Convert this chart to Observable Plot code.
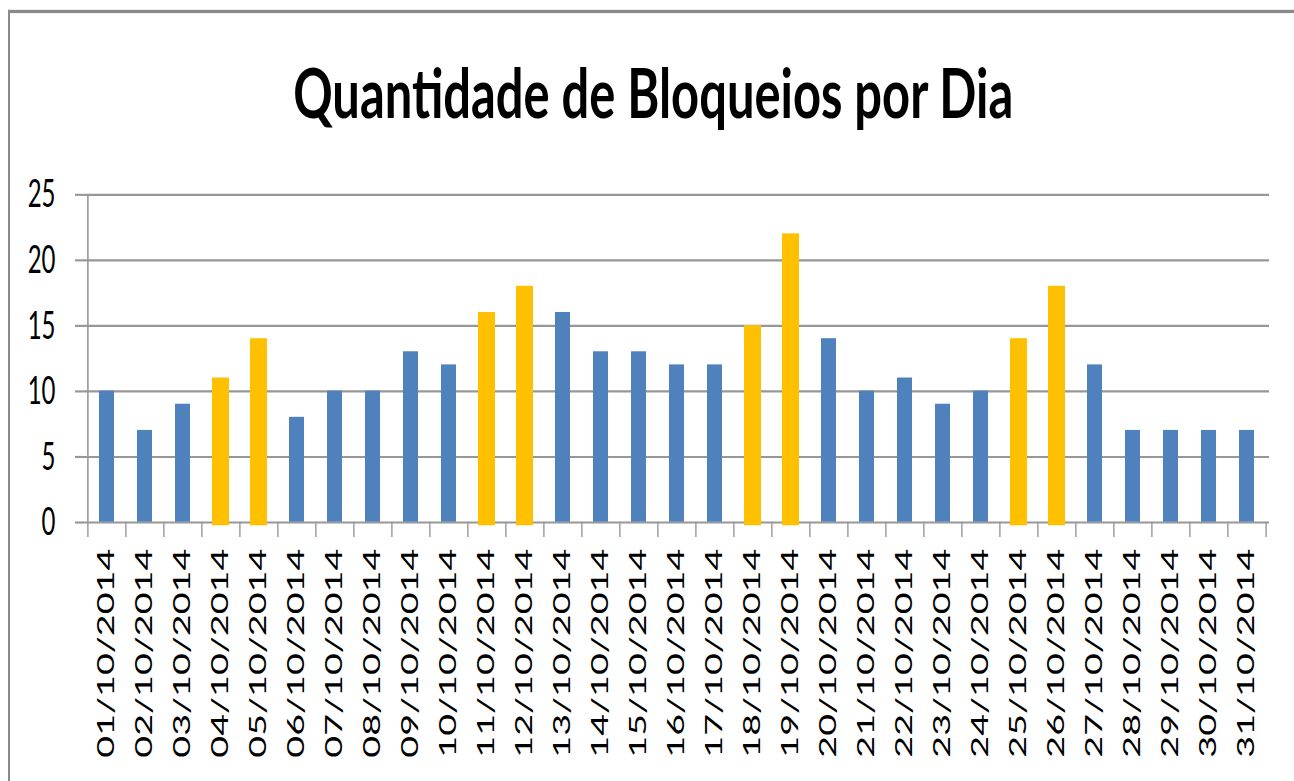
<!DOCTYPE html>
<html>
<head>
<meta charset="utf-8">
<script src="https://cdn.jsdelivr.net/npm/d3@7"></script>
<script src="https://cdn.jsdelivr.net/npm/@observablehq/plot@0.6"></script>
<style>
  html, body { margin: 0; padding: 0; background: #fff; overflow: hidden; width: 1294px; height: 781px; }
  #stage { position: absolute; left: 0; top: 0; width: 1294px; height: 476px; transform: scaleY(1.64); transform-origin: 0 0; }
  #border { position: absolute; left: 8px; top: 6px; width: 2000px; height: 2000px; border-left: 2px solid #8a8a8a; border-top: 2px solid #8a8a8a; }
  #title { position: absolute; left: 6px; top: 35px; width: 1294px; text-align: center; font: bold 42.5px Lato, sans-serif; line-height: 1; white-space: nowrap; color: #000; }
  #tt { display: inline-block; transform-origin: 50% 50%; }
  #chart { position: absolute; left: 0; top: 0; }
</style>
</head>
<body>
<div id="stage">
  <div id="border"></div>
  <div id="title"><span id="tt">Quantidade de Bloqueios por Dia</span></div>
  <div id="chart"></div>
</div>
<script>
// ---- data ----
const datas = [
  "01/10/2014","02/10/2014","03/10/2014","04/10/2014","05/10/2014","06/10/2014","07/10/2014",
  "08/10/2014","09/10/2014","10/10/2014","11/10/2014","12/10/2014","13/10/2014","14/10/2014",
  "15/10/2014","16/10/2014","17/10/2014","18/10/2014","19/10/2014","20/10/2014","21/10/2014",
  "22/10/2014","23/10/2014","24/10/2014","25/10/2014","26/10/2014","27/10/2014","28/10/2014",
  "29/10/2014","30/10/2014","31/10/2014"
];
const bloqueios = [10,7,9,11,14,8,10,10,13,12,16,18,16,13,13,12,12,15,22,14,10,11,9,10,14,18,12,7,7,7,7];
const yTicks = [0,5,10,15,20,25];
const tipos = ["Dia útil", "Fim de semana"];
const cores = ["#4F81BD", "#FFC000"];

function tipoDe(label) {
  const [d, m, y] = label.split("/").map(Number);
  const wd = new Date(y, m - 1, d).getDay();
  return (wd === 0 || wd === 6) ? tipos[1] : tipos[0];
}
const data = datas.map((d, i) => ({data: d, valor: bloqueios[i], tipo: tipoDe(d)}));

// ---- layout (in unstretched coordinates; stage is stretched vertically) ----
const W = 1294, H = 476;
const ML = 84, MR = 25, MT = 118.3, MB = H - 318.1;
const step = (W - ML - MR) / datas.length;
const gray = "#979797";

const chart = Plot.plot({
  width: W,
  height: H,
  marginLeft: ML,
  marginRight: MR,
  marginTop: MT,
  marginBottom: MB,
  style: {fontFamily: "Lato, 'Liberation Sans', sans-serif", color: "#000", background: "transparent", overflow: "visible"},
  x: {domain: datas, paddingInner: 0.595, paddingOuter: 0.2975, label: null},
  y: {domain: [0, 25], label: null},
  color: {domain: tipos, range: cores},
  marks: [
    Plot.gridY(yTicks, {stroke: gray, strokeOpacity: 1, strokeWidth: 1.3}),
    Plot.ruleX([datas[0]], {dx: -step / 2, y1: 0, y2: yTicks[yTicks.length - 1], stroke: gray, strokeWidth: 1.6}),
    Plot.axisY(yTicks, {tickSize: 9, tickPadding: 20, fontSize: 24, stroke: gray, strokeWidth: 1.3, fill: "#000", label: null}),
    Plot.axisX({tickSize: 9.3, tickFormat: () => "", dx: -step / 2, stroke: gray, strokeWidth: 1.4, label: null}),
    Plot.axisX([datas[datas.length - 1]], {tickSize: 9.3, tickFormat: () => "", dx: step / 2, stroke: gray, strokeWidth: 1.4, label: null}),
    Plot.axisX({tickSize: 0, tickPadding: 16, tickRotate: -90, fontSize: 23, fill: "#000", label: null}),
    Plot.barY(data.filter(d => d.tipo === tipos[0]), {x: "data", y: "valor", fill: "tipo"}),
    Plot.barY(data.filter(d => d.tipo === tipos[1]), {x: "data", y: "valor", fill: "tipo", stroke: "tipo", strokeWidth: 2, insetTop: 1, insetBottom: -1.2})
  ]
});
document.getElementById("chart").appendChild(chart);

// fit the title width to the reference
function fitTitle() {
  const tt = document.getElementById("tt");
  tt.style.transform = "none";
  const w = tt.getBoundingClientRect().width;
  if (w > 0) tt.style.transform = `scaleX(${720 / w})`;
}
fitTitle();
if (document.fonts && document.fonts.ready) document.fonts.ready.then(fitTitle);
</script>
</body>
</html>
